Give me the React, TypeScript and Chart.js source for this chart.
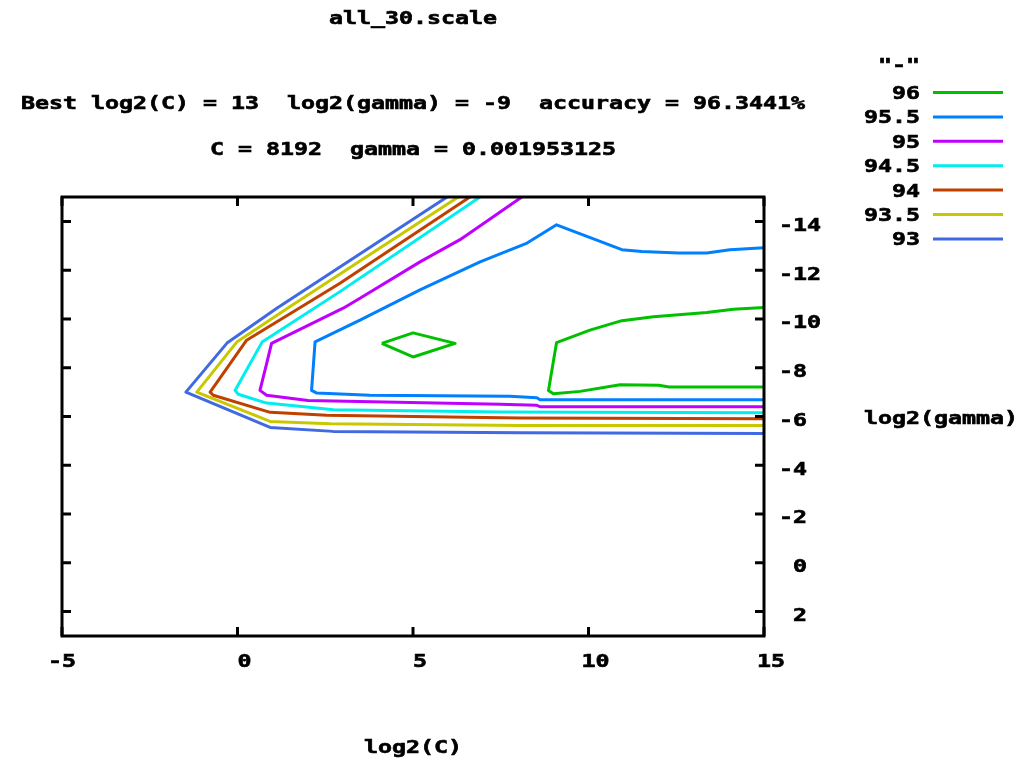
import React, { useEffect, useRef } from "react";
import { Chart, registerables } from "chart.js";

Chart.register(...registerables);

// ---------- data ----------
const TITLE = "all_30.scale";
const SUBTITLE_1 = "Best log2(C) = 13  log2(gamma) = -9  accuracy = 96.3441%";
const SUBTITLE_2 = "C = 8192  gamma = 0.001953125";
const X_TITLE = "log2(C)";
const Y_TITLE = "log2(gamma)";
const KEY_TITLE = '"-"';

const X_TICKS = [-5, 0, 5, 10, 15];
const Y_TICKS = [-14, -12, -10, -8, -6, -4, -2, 0, 2];

const LEVELS = ["96", "95.5", "95", "94.5", "94", "93.5", "93"];
const COLORS = ["#00c000", "#0080ff", "#c000ff", "#00eeee", "#c04000", "#c8c800", "#4169e1"];

// contour polylines: [log2(C), log2(gamma)]
const c96a: [number, number][] = [
  [4.11, -9.0], [5.0, -9.43], [6.2, -9.0], [5.0, -8.44], [4.11, -9.0],
];
const c96b: [number, number][] = [
  [15, -10.47], [14.13, -10.4], [13.37, -10.26], [11.85, -10.09], [10.95, -9.93],
  [10.04, -9.54], [9.09, -9.03], [8.86, -7.07], [9.0, -6.93], [9.76, -7.03],
  [10.9, -7.3], [12.0, -7.28], [12.3, -7.21], [15, -7.21],
];
const c955: [number, number][] = [
  [15, -12.92], [14.03, -12.84], [13.37, -12.7], [12.56, -12.7], [11.52, -12.77],
  [10.95, -12.84], [9.09, -13.86], [8.25, -13.11], [6.91, -12.34], [5.2, -11.19],
  [3.49, -9.95], [2.21, -9.06], [2.11, -7.07], [2.26, -6.96], [3.77, -6.87],
  [7.76, -6.83], [8.53, -6.77], [8.62, -6.69], [15, -6.69],
];
const c95: [number, number][] = [
  [8.1, -15], [6.34, -13.25], [5.2, -12.34], [3.49, -10.85], [3.01, -10.44],
  [0.97, -9.0], [0.83, -8.17], [0.64, -7.07], [0.83, -6.87], [2.01, -6.66],
  [7.48, -6.5], [8.53, -6.46], [8.62, -6.4], [15, -6.4],
];
const c945: [number, number][] = [
  [6.91, -15], [2.92, -11.12], [0.7, -9.05], [-0.07, -7.07], [0.02, -6.91],
  [0.83, -6.55], [1.97, -6.39], [2.73, -6.28], [7.48, -6.18], [15, -6.15],
];
const c94: [number, number][] = [
  [6.62, -15], [2.92, -11.46], [0.26, -9.13], [-0.78, -7.0], [-0.69, -6.87],
  [0.93, -6.17], [2.54, -6.05], [8.05, -5.94], [15, -5.91],
];
const c935: [number, number][] = [
  [6.29, -15], [1.5, -10.51], [-0.01, -9.07], [-1.16, -7.0], [0.93, -5.8],
  [2.64, -5.7], [8.05, -5.63], [15, -5.63],
];
const c93: [number, number][] = [
  [5.97, -15], [1.13, -10.45], [-0.3, -9.01], [-1.47, -7.0], [0.93, -5.55],
  [2.72, -5.39], [8.05, -5.33], [15, -5.3],
];

const SEGMENTS: { level: number; pts: [number, number][] }[] = [
  { level: 0, pts: c96a },
  { level: 0, pts: c96b },
  { level: 1, pts: c955 },
  { level: 2, pts: c95 },
  { level: 3, pts: c945 },
  { level: 4, pts: c94 },
  { level: 5, pts: c935 },
  { level: 6, pts: c93 },
];

// ---------- drawing helpers ----------
const FONT = 'bold 17px "DejaVu Sans Mono"';
const CHAR_W = 14;

function drawText(ctx: CanvasRenderingContext2D, text: string, x: number, y: number, align: "left" | "center" | "right") {
  ctx.save();
  ctx.font = FONT;
  const w = ctx.measureText(text).width;
  const target = text.length * CHAR_W;
  const sx = w > 0 ? target / w : 1;
  const left = align === "center" ? x - target / 2 : align === "right" ? x - target : x;
  ctx.translate(left, y);
  ctx.scale(sx, 1);
  ctx.textAlign = "left";
  ctx.textBaseline = "middle";
  ctx.fillStyle = "#000";
  ctx.strokeStyle = "#000";
  ctx.lineWidth = 0.6;
  ctx.fillText(text, 0, 0);
  ctx.strokeText(text, 0, 0);
  ctx.restore();
}

const fmt = (v: number) => (v < 0 ? String(v) : " " + v);

const gnuplotPlugin = {
  id: "gnuplotDecor",
  afterDatasetsDraw(chart: any) {
    const ctx: CanvasRenderingContext2D = chart.ctx;
    const { left, right, top, bottom } = chart.chartArea;
    const xs = chart.scales.x;
    const ys = chart.scales.y;
    const cx = (left + right) / 2;

    ctx.save();
    // border
    ctx.strokeStyle = "#000";
    ctx.lineWidth = 3;
    ctx.strokeRect(left, top, right - left, bottom - top);
    // ticks (inward, mirrored)
    const TL = 9;
    ctx.beginPath();
    X_TICKS.forEach((v) => {
      const px = xs.getPixelForValue(v);
      ctx.moveTo(px, bottom);
      ctx.lineTo(px, bottom - TL);
      ctx.moveTo(px, top);
      ctx.lineTo(px, top + TL);
    });
    Y_TICKS.forEach((v) => {
      const py = ys.getPixelForValue(v);
      ctx.moveTo(right, py);
      ctx.lineTo(right - TL, py);
      ctx.moveTo(left, py);
      ctx.lineTo(left + TL, py);
    });
    ctx.stroke();
    ctx.restore();

    // tick labels
    X_TICKS.forEach((v) => {
      drawText(ctx, fmt(v), xs.getPixelForValue(v), 663, "center");
    });
    Y_TICKS.forEach((v) => {
      drawText(ctx, fmt(v), 779, ys.getPixelForValue(v) + 5, "left");
    });

    // titles
    drawText(ctx, TITLE, cx, 20, "center");
    drawText(ctx, SUBTITLE_1, cx, 105, "center");
    drawText(ctx, SUBTITLE_2, cx, 151, "center");
    drawText(ctx, X_TITLE, cx, 749, "center");
    drawText(ctx, Y_TITLE, 864, 420, "left");

    // key
    drawText(ctx, KEY_TITLE, 920, 67, "right");
    LEVELS.forEach((lab, i) => {
      const y = 92.5 + i * 24.4;
      drawText(ctx, lab, 920, y + 2, "right");
      ctx.save();
      ctx.strokeStyle = COLORS[i];
      ctx.lineWidth = 3;
      ctx.beginPath();
      ctx.moveTo(933, y);
      ctx.lineTo(1003, y);
      ctx.stroke();
      ctx.restore();
    });
  },
};

export default function App() {
  const ref = useRef<HTMLCanvasElement | null>(null);

  useEffect(() => {
    if (!ref.current) return;
    const chart = new Chart(ref.current, {
      type: "scatter",
      data: {
        datasets: SEGMENTS.map((s) => ({
          label: LEVELS[s.level],
          data: s.pts.map(([x, y]) => ({ x, y })),
          showLine: true,
          borderColor: COLORS[s.level],
          backgroundColor: COLORS[s.level],
          borderWidth: 3,
          pointRadius: 0,
          fill: false,
          tension: 0,
          borderJoinStyle: "round" as const,
        })),
      },
      options: {
        responsive: false,
        animation: false,
        devicePixelRatio: 1,
        events: [],
        layout: { padding: { left: 62, top: 197, right: 259, bottom: 129 } },
        plugins: {
          legend: { display: false },
          title: { display: false },
          tooltip: { enabled: false },
        },
        scales: {
          x: { type: "linear", min: -5, max: 15, display: false },
          y: { type: "linear", min: -15, max: 3, reverse: true, display: false },
        },
      },
      plugins: [gnuplotPlugin],
    });
    return () => chart.destroy();
  }, []);

  return (
    <div style={{ position: "fixed", left: 0, top: 0, width: 1023, height: 765, background: "#fff" }}>
      <canvas ref={ref} width={1023} height={765} style={{ display: "block" }} />
    </div>
  );
}
